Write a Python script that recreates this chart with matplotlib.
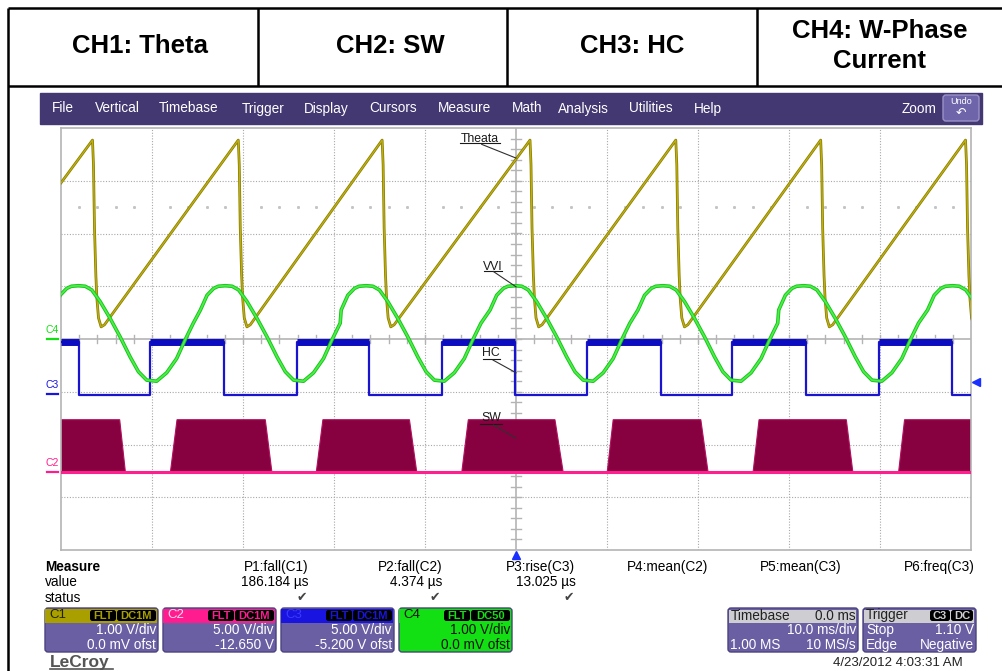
import matplotlib.pyplot as plt
import numpy as np
from matplotlib.patches import Rectangle, FancyBboxPatch

plt.rcParams['font.family'] = ['Liberation Sans', 'DejaVu Sans']

# channel set-up (V/div and offset in V)
ch_scale = {'C1': 1.0, 'C2': 5.0, 'C3': 5.0, 'C4': 1.0}
ch_offset = {'C1': 0.0, 'C2': -12.65, 'C3': -5.2, 'C4': 0.0}

# C1 Theta: sawtooth, peak times (ms) and shape of the drop after each peak
theta_start = (-50.0, 2.96)
theta_peak_t = [-46.54, -30.52, -14.71, 1.54, 17.56, 33.48, 49.40]
theta_drop_dt = [0.0, 0.11, 0.22, 0.37, 0.48, 0.66, 0.95, 1.32]
theta_drop_v = [3.77, 3.30, 2.10, 1.21, 0.78, 0.40, 0.23, 0.27]

# C4 W-phase current: peak times (ms) and one period read around a peak
wphase_peak_t = [-48.08, -31.94, -16.47, -0.11, 16.14, 31.61, 47.97]
wphase_dt = [-2.74, -2.01, -1.28, -0.77, 0.0, 0.74, 1.46, 2.38, 3.48, 4.58,
             5.68, 6.59, 7.50, 8.59, 9.69, 10.79, 11.71, 12.62]
wphase_v = [0.55, 0.83, 0.96, 1.00, 1.01, 1.00, 0.93, 0.71, 0.39, 0.04,
            -0.34, -0.62, -0.78, -0.80, -0.64, -0.37, -0.02, 0.30]

# C3 HC: square wave edges (ms), starts high
hc_edges_t = [-48.05, -40.18, -32.05, -24.07, -16.14, -8.16, -0.11,
              7.83, 15.88, 23.79, 31.91, 39.85, 47.94]
hc_high_v = 4.95
hc_low_v = -0.1

# C2 SW: PWM bursts (envelope corners, ms)
sw_rise_start = [-50.0, -37.98, -21.95, -5.96, 10.02, 26.05, 42.04]
sw_rise_end = [-50.0, -37.25, -21.22, -5.24, 10.68, 26.71, 42.70]
sw_fall_start = [-43.55, -27.55, -11.71, 4.28, 20.31, 36.30, 50.0]
sw_fall_end = [-42.92, -26.82, -10.90, 5.19, 21.11, 37.02, 50.0]
sw_high_v = 5.0
sw_low_v = 0.0

trig_level_c3 = 1.10

header_labels = ['CH1: Theta', 'CH2: SW', 'CH3: HC', 'CH4: W-Phase\nCurrent']
menu_items = ['File', 'Vertical', 'Timebase', 'Trigger', 'Display', 'Cursors',
              'Measure', 'Math', 'Analysis', 'Utilities', 'Help']
meas_names = ['P1:fall(C1)', 'P2:fall(C2)', 'P3:rise(C3)', 'P4:mean(C2)',
              'P5:mean(C3)', 'P6:freq(C3)']
meas_values = ['186.184 µs', '4.374 µs', '13.025 µs', '', '', '']
meas_ok = [True, True, True, False, False, False]
ch_rows = [('C1', '1.00 V/div', '0.0 mV ofst', 'DC1M'),
           ('C2', '5.00 V/div', '-12.650 V', 'DC1M'),
           ('C3', '5.00 V/div', '-5.200 V ofst', 'DC1M'),
           ('C4', '1.00 V/div', '0.0 mV ofst', 'DC50')]

col = {'C1': '#a9a000', 'C2': '#ff1c8e', 'C3': '#1a14e0', 'C4': '#12e012'}
purple = '#6a5fa2'


def to_div(v, ch):
    return (np.asarray(v, dtype=float) + ch_offset[ch]) / ch_scale[ch]


fig = plt.figure(figsize=(10.02, 6.71), dpi=100)
fig.patch.set_facecolor('white')

# ---- page / frame in pixel coordinates ----
bg = fig.add_axes([0, 0, 1, 1])
bg.set_xlim(0, 1002)
bg.set_ylim(671, 0)
bg.axis('off')

for x0, x1, y0, y1 in [(8, 1002, 8, 8), (8, 1002, 86, 86), (8, 8, 8, 671),
                       (258, 258, 8, 86), (507, 507, 8, 86), (757, 757, 8, 86)]:
    bg.plot([x0, x1], [y0, y1], color='black', lw=1.8, solid_capstyle='butt')

for xc, lab in zip([140, 390, 632, 880], header_labels):
    bg.text(xc, 46, lab, ha='center', va='center', fontsize=18.5,
            fontweight='bold', linespacing=1.3)

# menu bar
bg.add_patch(Rectangle((40, 93), 942, 31, color='#433872'))
for x, m in zip([52, 95, 159, 242, 304, 369, 438, 512, 558, 629, 694], menu_items):
    bg.text(x, 112.5, m, color='white', fontsize=9.8, va='baseline', ha='left')
bg.text(937, 113, 'Zoom', color='white', fontsize=9.8, va='baseline', ha='right')
bg.add_patch(FancyBboxPatch((943, 95), 36, 26, boxstyle='round,pad=0,rounding_size=3',
                            fc='#6e64aa', ec='#9a92c8', lw=1))
bg.text(961, 102, 'Undo', color='white', fontsize=6.5, ha='center', va='center')
bg.text(961, 114, '↶', color='white', fontsize=9, ha='center', va='center')

# ---- scope screen ----
ax = fig.add_axes([61 / 1002, 121 / 671, 910 / 1002, 422 / 671])
ax.set_xlim(-50, 50)
ax.set_ylim(-4, 4)
ax.set_xticks([])
ax.set_yticks([])
for s in ax.spines.values():
    s.set_color('#b4b4b4')
    s.set_linewidth(1.2)

for x in range(-40, 50, 10):
    if x != 0:
        ax.axvline(x, color='#a8a8a8', lw=0.8, ls=(0, (1, 1.5)), zorder=0)
for y in range(-3, 4):
    if y != 0:
        ax.axhline(y, color='#a8a8a8', lw=0.8, ls=(0, (1, 1.5)), zorder=0)
ax.axvline(0, color='#b4b4b4', lw=1.2, zorder=0)
ax.axhline(0, color='#b4b4b4', lw=1.2, zorder=0)
for t in np.arange(-48, 50, 2):
    ax.plot([t, t], [-0.07, 0.07], color='#b4b4b4', lw=1, zorder=0)
    if t % 10 != 0:
        ax.plot([t], [2.5], marker='s', ms=1.1, color='#c4c4c4', zorder=0)
for y in np.arange(-3.8, 4, 0.2):
    ax.plot([-0.6, 0.6], [y, y], color='#b4b4b4', lw=1, zorder=0)

# C2 SW bursts
sw_lo = to_div(sw_low_v, 'C2')
sw_hi = to_div(sw_high_v, 'C2')
for a, b, c, d in zip(sw_rise_start, sw_rise_end, sw_fall_start, sw_fall_end):
    ax.fill([a, b, c, d], [sw_lo, sw_hi, sw_hi, sw_lo], fc='#87003f',
            ec='#b0105e', lw=0.8, zorder=2)
ax.plot([-50, 50], [sw_lo, sw_lo], color='#ff2090', lw=2.2, zorder=3)

# C3 HC square wave
hc_t = [-50.0]
hc_v = [hc_high_v]
level = hc_high_v
high_segs = []
seg_start = -50.0
for te in hc_edges_t:
    new = hc_low_v if level == hc_high_v else hc_high_v
    if level == hc_high_v:
        high_segs.append((seg_start, te))
    seg_start = te
    hc_t += [te, te]
    hc_v += [level, new]
    level = new
hc_t.append(50.0)
hc_v.append(level)
if level == hc_high_v:
    high_segs.append((seg_start, 50.0))
ax.plot(hc_t, to_div(hc_v, 'C3'), color='#1a14d0', lw=1.6, zorder=4)
for a, b in high_segs:
    ax.plot([a, b], to_div([hc_high_v, hc_high_v], 'C3'), color='#0c0cc0',
            lw=5, solid_capstyle='butt', zorder=4)

# C1 theta sawtooth
th_t = [theta_start[0]]
th_v = [theta_start[1]]
for tp in theta_peak_t:
    th_t += [tp + d for d in theta_drop_dt]
    th_v += theta_drop_v
th_y = to_div(th_v, 'C1')
ax.plot(th_t, th_y, color='#8a7e00', lw=2.0, zorder=5)
ax.plot(th_t, th_y, color='#bfb010', lw=0.9, zorder=5)

# C4 W-phase current
wp_t = []
wp_v = []
for tp in wphase_peak_t:
    wp_t += [tp + d for d in wphase_dt]
    wp_v += wphase_v
wp_y = to_div(wp_v, 'C4')
ax.plot(wp_t, wp_y, color='#1cc01c', lw=2.6, zorder=6)
ax.plot(wp_t, wp_y, color='#48f048', lw=1.3, zorder=6)

# trace labels with leader lines
notes = [('Theata', -3.95, 3.80, 3.71, -6.15, -1.76, (-3.77, 3.69), (0, 3.43)),
         ('VVI', -2.60, 1.37, 1.29, -3.51, -1.57, (-2.49, 1.28), (0, 0.99)),
         ('HC', -2.74, -0.27, -0.385, -3.66, -1.76, (-2.52, -0.40), (0, -0.64)),
         ('SW', -2.74, -1.50, -1.62, -3.95, -1.57, (-2.49, -1.63), (0, -1.88))]
for txt, tx, ty, uy, ux0, ux1, p0, p1 in notes:
    ax.text(tx, ty, txt, fontsize=8.8, ha='center', va='center', color='#1a1a1a', zorder=8)
    ax.plot([ux0, ux1], [uy, uy], color='#1a1a1a', lw=0.8, zorder=8)
    ax.plot([p0[0], p1[0]], [p0[1], p1[1]], color='#303030', lw=0.8, zorder=8)

# ground markers on the left, trigger markers
for ch in ['C4', 'C3', 'C2']:
    g = float(to_div(0.0, ch))
    ax.text(-50.95, g + 0.08, ch, color=col[ch], fontsize=7.5, ha='center',
            va='bottom', clip_on=False)
    ax.plot([-51.5, -50.3], [g, g], color=col[ch], lw=1.6, clip_on=False)
ax.plot([50.5], [float(to_div(trig_level_c3, 'C3'))], marker='<', ms=6,
        color='#1a30ff', clip_on=False)
ax.plot([0], [-4.1], marker='^', ms=6, color='#1a30ff', clip_on=False)

# ---- measurement table ----
bg.text(45, 567, 'Measure', fontsize=9.8, fontweight='bold', va='center')
bg.text(45, 582, 'value', fontsize=9.8, va='center')
bg.text(45, 598, 'status', fontsize=9.8, va='center')
for i, (n, v, ok) in enumerate(zip(meas_names, meas_values, meas_ok)):
    xr = 309 + 133.2 * i
    bg.text(xr, 567, n, fontsize=9.8, ha='right', va='center')
    if v:
        bg.text(xr, 582, v, fontsize=9.8, ha='right', va='center')
    if ok:
        bg.text(xr - 7, 598, '✔', fontsize=9, ha='center', va='center', color='#444444')


def tag(x0, x1, txt, c):
    bg.add_patch(FancyBboxPatch((x0, 610), x1 - x0, 11, boxstyle='round,pad=0,rounding_size=2.5',
                                fc='black', ec='none'))
    bg.text((x0 + x1) / 2, 615.8, txt, color=c, fontsize=8, fontweight='bold',
            ha='center', va='center')


for i, (ch, l1, l2, cpl) in enumerate(ch_rows):
    x0 = 45 + 118 * i
    x1 = x0 + 113
    body = col[ch] if ch == 'C4' else purple
    bg.add_patch(FancyBboxPatch((x0, 608), 113, 44, boxstyle='round,pad=0,rounding_size=3',
                                fc=body, ec='#4a4380', lw=1))
    bg.add_patch(Rectangle((x0 + 0.5, 608.5), 112, 14.5, fc=col[ch], ec='none'))
    tc = {'C1': '#222200', 'C2': '#ffd6ea', 'C3': '#3a3aff', 'C4': '#111111'}[ch]
    bg.text(x0 + 4, 615.5, ch, fontsize=9.5, color=tc, va='center')
    tag(x1 - 68, x1 - 42, 'FLT', col[ch])
    tag(x1 - 41, x1 - 2, cpl, col[ch])
    txtc = '#111111' if ch == 'C4' else 'white'
    bg.text(x1 - 2, 634, l1, fontsize=9.8, color=txtc, ha='right', va='baseline')
    bg.text(x1 - 2, 649, l2, fontsize=9.8, color=txtc, ha='right', va='baseline')

# timebase / trigger boxes
for x0, w, title, right in [(728, 130, 'Timebase', '0.0 ms'), (863, 113, 'Trigger', '')]:
    bg.add_patch(FancyBboxPatch((x0, 608), w, 44, boxstyle='round,pad=0,rounding_size=3',
                                fc=purple, ec='#4a4380', lw=1))
    bg.add_patch(Rectangle((x0 + 1.5, 609.5), w - 3, 13, fc='#cdcdd2', ec='none'))
    bg.text(x0 + 3, 619.5, title, fontsize=9.8, color='#222222', va='baseline')
    if right:
        bg.text(x0 + w - 2, 619.5, right, fontsize=9.8, color='#222222', ha='right', va='baseline')
tag(930, 950, 'C3', '#cdcdd2')
tag(951, 973, 'DC', '#cdcdd2')
bg.text(856, 634, '10.0 ms/div', fontsize=9.8, color='white', ha='right', va='baseline')
bg.text(730, 649, '1.00 MS', fontsize=9.8, color='white', va='baseline')
bg.text(856, 649, '10 MS/s', fontsize=9.8, color='white', ha='right', va='baseline')
bg.text(866, 634, 'Stop', fontsize=9.8, color='white', va='baseline')
bg.text(974, 634, '1.10 V', fontsize=9.8, color='white', ha='right', va='baseline')
bg.text(866, 649, 'Edge', fontsize=9.8, color='white', va='baseline')
bg.text(974, 649, 'Negative', fontsize=9.8, color='white', ha='right', va='baseline')

bg.text(50, 662, 'LeCroy', fontsize=12.5, fontweight='bold', color='#555555', va='center')
bg.plot([50, 113], [669, 669], color='#555555', lw=1.2)
bg.text(963, 663, '4/23/2012 4:03:31 AM', fontsize=9.5, color='#222222', ha='right', va='center')

plt.savefig('out.png', dpi=100)
